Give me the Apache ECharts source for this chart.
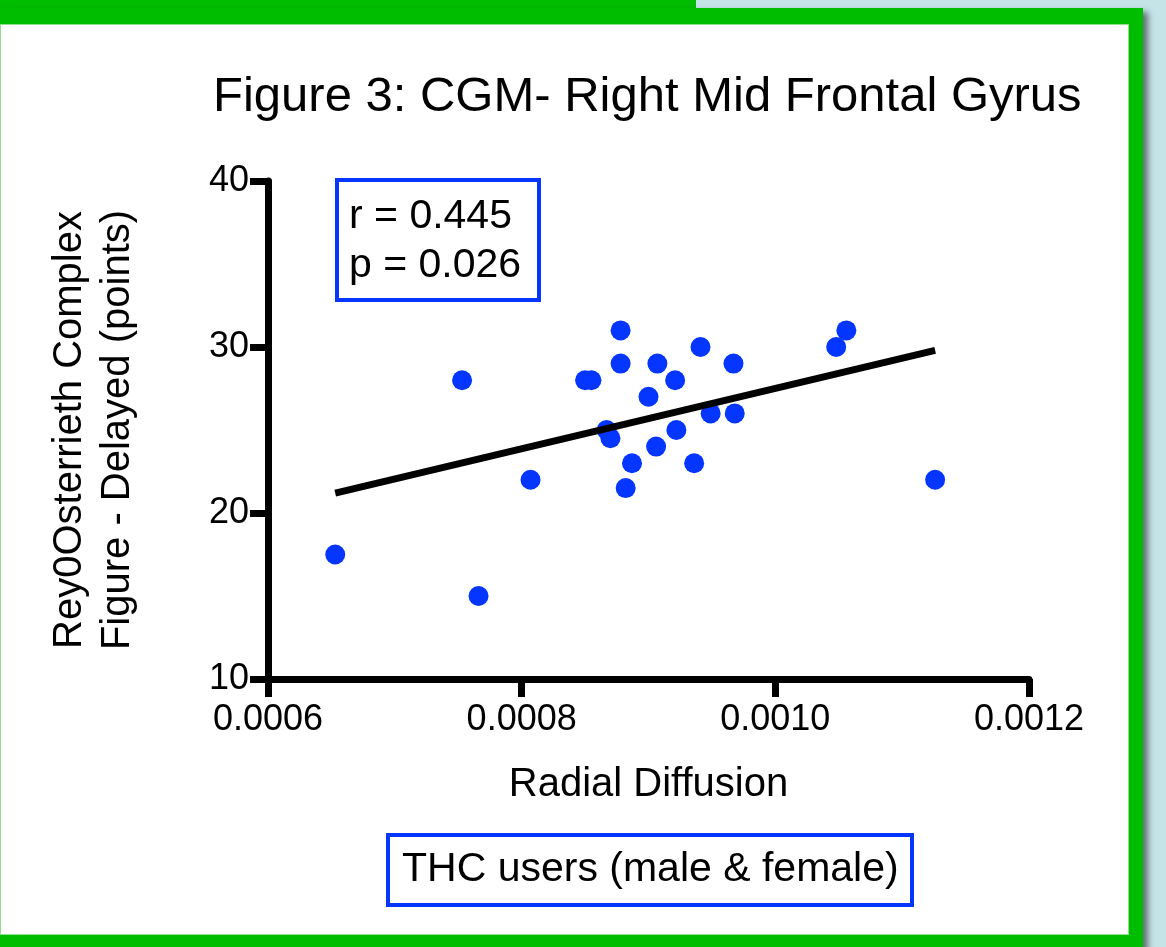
<!DOCTYPE html>
<html>
<head>
<meta charset="utf-8">
<script src="https://cdn.jsdelivr.net/npm/echarts@6/dist/echarts.min.js"></script>
<style>
	html, body { margin: 0; padding: 0; }
	body { width: 1166px; height: 947px; background: #c4e4e8; position: relative; overflow: hidden; }
	.green-top { position: absolute; left: 0; top: 0; width: 696px; height: 30px; background: #00bd00; }
	.green-frame { position: absolute; left: 0; top: 8px; width: 1143px; height: 960px; background: #00bd00; box-shadow: 5px 4px 6px rgba(0, 0, 0, 0.5); }
	.paper { position: absolute; left: 0; top: 24px; width: 1129px; height: 911px; box-sizing: border-box; background: #fff; border: 1px solid #8ee08e; }
	#chart { position: absolute; left: 0; top: 0; width: 1166px; height: 947px; }
</style>
</head>
<body>
<div class="green-top"></div>
<div class="green-frame"></div>
<div class="paper"></div>
<div id="chart"></div>
<script>
	// Radial diffusion vs. ROCF delayed score (THC users)
	const radialDiffusion = [
		0.000653, 0.000753, 0.000766, 0.000807, 0.00085, 0.000855, 0.000867, 0.00087,
		0.000878, 0.000878, 0.000882, 0.000887, 0.0009, 0.000907, 0.000906, 0.000921,
		0.000922, 0.000936, 0.000941, 0.000949, 0.000967, 0.000968, 0.001048, 0.001056,
		0.001126,
	];
	const delayedScore = [
		17.5, 28, 15, 22, 28, 28, 25, 24.5,
		31, 29, 21.5, 23, 27, 29, 24, 28,
		25, 23, 30, 26, 29, 26, 30, 31,
		22,
	];
	// fitted line at its two ends
	const fitX = [0.000653, 0.001126];
	const fitY = [21.2, 29.8];

	const xTicks = { min: 0.0006, max: 0.0012, interval: 0.0002 };
	const yTicks = { min: 10, max: 40, interval: 10 };

	const statsText = "r = 0.445\np = 0.026";
	const groupText = "THC users (male & female)";

	const font = "'Liberation Sans', Arial, Helvetica, sans-serif";
	const blue = "#0536ff";

	var chart = echarts.init(document.getElementById("chart"));

	var points = radialDiffusion.map((x, i) => [x, delayedScore[i]]);
	var fitLine = fitX.map((x, i) => [x, fitY[i]]);

	var axisCommon = {
		type: "value",
		splitLine: { show: false },
		axisLine: { show: true, lineStyle: { color: "#000", width: 7 } },
		axisTick: { show: true, length: 18, lineStyle: { color: "#000", width: 7 } },
		nameLocation: "middle",
		nameTextStyle: { color: "#000", fontSize: 40, lineHeight: 48, fontFamily: font },
	};

	var option = {
		animation: false,
		title: [
			{
				text: "Figure 3: CGM- Right Mid Frontal Gyrus",
				left: 213,
				top: 73,
				padding: 0,
				textStyle: { color: "#000", fontSize: 49, fontWeight: "normal", fontFamily: font },
			},
			{
				text: statsText,
				left: 337,
				top: 180,
				padding: [12, 18, 10, 12],
				borderColor: blue,
				borderWidth: 4,
				textStyle: { color: "#000", fontSize: 41, lineHeight: 49, fontWeight: "normal", fontFamily: font },
			},
			{
				text: groupText,
				left: 388,
				top: 835,
				padding: [11, 14, 11, 14],
				borderColor: blue,
				borderWidth: 4,
				textStyle: { color: "#000", fontSize: 41, lineHeight: 48, fontWeight: "normal", fontFamily: font },
			},
		],
		grid: { left: 268, right: 137, top: 181, bottom: 268, containLabel: false },
		xAxis: Object.assign({}, axisCommon, {
			min: xTicks.min,
			max: xTicks.max,
			interval: xTicks.interval,
			name: "Radial Diffusion",
			nameGap: 82,
			axisLabel: {
				color: "#000",
				fontSize: 36,
				fontFamily: font,
				margin: 23,
				formatter: (v) => v.toFixed(4),
			},
		}),
		yAxis: Object.assign({}, axisCommon, {
			min: yTicks.min,
			max: yTicks.max,
			interval: yTicks.interval,
			name: "Rey0Osterrieth Complex\nFigure - Delayed (points)",
			nameRotate: 90,
			nameGap: 126,
			axisLabel: { color: "#000", fontSize: 36, fontFamily: font, margin: 19 },
		}),
		series: [
			{
				type: "scatter",
				data: points,
				symbol: "circle",
				symbolSize: 20,
				itemStyle: { color: blue, opacity: 1 },
				z: 2,
			},
			{
				type: "line",
				data: fitLine,
				showSymbol: false,
				lineStyle: { color: "#000", width: 7 },
				z: 3,
			},
		],
	};

	chart.setOption(option);
</script>
</body>
</html>
